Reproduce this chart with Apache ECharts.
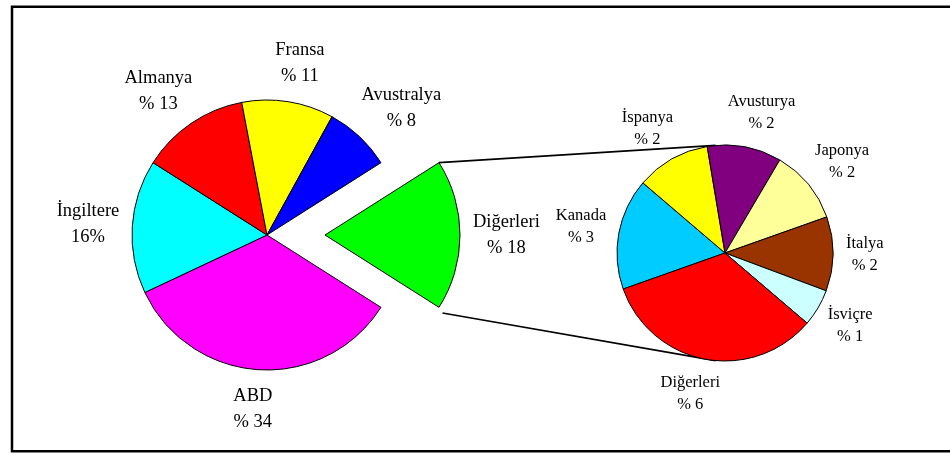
<!DOCTYPE html>
<html><head><meta charset="utf-8">
<script src="https://cdn.jsdelivr.net/npm/echarts@6/dist/echarts.min.js"></script>
<style>html,body{margin:0;padding:0;background:#fff}#c{width:950px;height:453px}</style>
</head><body><div id="c"></div>
<script>
// ---- data ----
const mainCategories = ['Diğerleri', 'ABD', 'İngiltere', 'Almanya', 'Fransa', 'Avustralya'];
const mainValues = [18, 34, 16, 13, 11, 8];
const mainPctLabels = ['% 18', '% 34', '16%', '% 13', '% 11', '% 8'];
const subCategories = ['Kanada', 'İspanya', 'Avusturya', 'Japonya', 'İtalya', 'İsviçre', 'Diğerleri'];
const subValues = [3, 2, 2, 2, 2, 1, 6];
const subPctLabels = ['% 3', '% 2', '% 2', '% 2', '% 2', '% 1', '% 6'];
const mainColors = ['#00FF00', '#FF00FF', '#00FFFF', '#FF0000', '#FFFF00', '#0000FF'];
const subColors = ['#00CCFF', '#FFFF00', '#800080', '#FFFF99', '#993300', '#CCFFFF', '#FF0000'];

// ---- geometry (layout only) ----
const MAIN = {cx: 267, cy: 235, r: 135, gap: 13};
const EXPLODE = 58;
const SUB = {cx: 725, cy: 253, r: 108, start: 199.5, gap: 13};
const mainTotal = mainValues.reduce((a, b) => a + b, 0);
MAIN.start = 360 * mainValues[0] / mainTotal / 2; // centre the exploded slice on the right
const explodeMid = (MAIN.start - 360 * mainValues[0] / mainTotal / 2) * Math.PI / 180;
const EXP = {cx: MAIN.cx + EXPLODE * Math.cos(explodeMid), cy: MAIN.cy - EXPLODE * Math.sin(explodeMid),
             r: MAIN.r, start: MAIN.start, gap: MAIN.gap};

function makeLabelLayout(values, g) {
  const total = values.reduce((a, b) => a + b, 0);
  const mids = [];
  let a = g.start;
  values.forEach(v => { const span = v / total * 360; mids.push(a - span / 2); a -= span; });
  return function (params) {
    const i = params.dataIndex;
    const th = mids[i] * Math.PI / 180;
    const c = Math.cos(th), s = Math.sin(th);
    const hw = params.labelRect.width / 2, hh = params.labelRect.height / 2;
    const x = g.cx + (g.r + g.gap) * c + hw * Math.sign(c) * Math.sqrt(Math.abs(c));
    const y = g.cy - (g.r + g.gap) * s - hh * s;
    return {x: x, y: y, align: 'center', verticalAlign: 'middle'};
  };
}

function labelCfg(cats, pcts, size, lh) {
  return {
    show: true, position: 'inside', color: '#000',
    fontFamily: 'Liberation Serif', fontSize: size, lineHeight: lh,
    textBorderWidth: 0, align: 'center',
    formatter: p => cats[p.dataIndex] + '\n' + pcts[p.dataIndex]
  };
}

const chart = echarts.init(document.getElementById('c'), null, {renderer: 'canvas'});
const hidden = {color: 'rgba(0,0,0,0)', borderWidth: 0};
const common = {
  type: 'pie', clockwise: true, selectedMode: false, avoidLabelOverlap: false,
  emphasis: {disabled: true}, silent: true,
  itemStyle: {borderColor: '#000', borderWidth: 1}, labelLine: {show: false}
};
const option = {
  animation: false,
  backgroundColor: '#fff',
  series: [
    Object.assign({}, common, {
      center: [MAIN.cx, MAIN.cy], radius: MAIN.r, startAngle: MAIN.start,
      label: labelCfg(mainCategories, mainPctLabels, 18.5, 26),
      labelLayout: makeLabelLayout(mainValues, MAIN),
      data: mainValues.map((v, i) => ({
        name: mainCategories[i], value: v,
        itemStyle: i === 0 ? hidden : {color: mainColors[i]},
        label: {show: i !== 0}
      }))
    }),
    // the exploded slice, drawn from the same data with its centre pushed outward
    Object.assign({}, common, {
      center: [EXP.cx, EXP.cy], radius: EXP.r, startAngle: EXP.start,
      label: labelCfg(mainCategories, mainPctLabels, 18.5, 26),
      labelLayout: makeLabelLayout(mainValues, EXP),
      data: mainValues.map((v, i) => ({
        name: mainCategories[i], value: v,
        itemStyle: i === 0 ? {color: mainColors[i]} : hidden,
        label: {show: i === 0}
      }))
    }),
    Object.assign({}, common, {
      center: [SUB.cx, SUB.cy], radius: SUB.r, startAngle: SUB.start,
      label: labelCfg(subCategories, subPctLabels, 16.5, 22),
      labelLayout: makeLabelLayout(subValues, SUB),
      data: subValues.map((v, i) => ({
        name: subCategories[i], value: v, itemStyle: {color: subColors[i]}
      }))
    })
  ]
};
chart.setOption(option);

// connector lines derived from the laid-out sectors
const model = chart.getModel();
const L = model.getSeriesByIndex(1).getData().getItemLayout(0);
const p1 = [L.cx + L.r * Math.cos(L.startAngle), L.cy + L.r * Math.sin(L.startAngle)];
const p2 = [L.cx + (L.r + 6) * Math.cos(L.endAngle + 0.02), L.cy + (L.r + 6) * Math.sin(L.endAngle + 0.02)];
const S = model.getSeriesByIndex(2).getData().getItemLayout(0);
const tA = -95 * Math.PI / 180, bA = 95 * Math.PI / 180;
const q1 = [S.cx + S.r * Math.cos(tA), S.cy + S.r * Math.sin(tA)];
const q2 = [S.cx + S.r * Math.cos(bA), S.cy + S.r * Math.sin(bA)];

chart.setOption({
  graphic: [
    {type: 'rect', silent: true, shape: {x: 12, y: 6.7, width: 960, height: 444.5},
     style: {fill: null, stroke: '#000', lineWidth: 2.5}},
    {type: 'line', silent: true, shape: {x1: p1[0], y1: p1[1], x2: q1[0], y2: q1[1]},
     style: {stroke: '#000', lineWidth: 1.6}},
    {type: 'line', silent: true, shape: {x1: p2[0], y1: p2[1], x2: q2[0], y2: q2[1]},
     style: {stroke: '#000', lineWidth: 1.6}}
  ]
});
</script>
</body></html>
